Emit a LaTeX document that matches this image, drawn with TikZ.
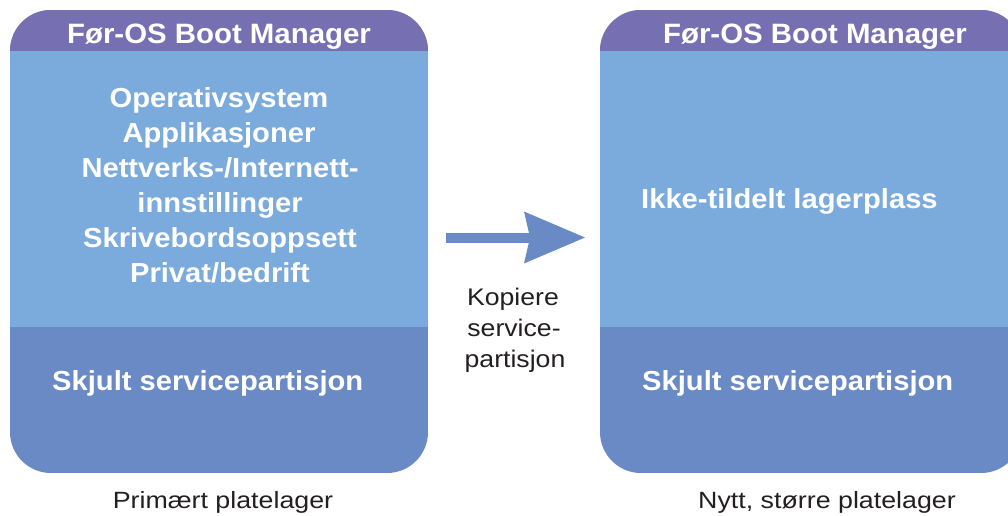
\documentclass[tikz,border=0pt]{standalone}
\usepackage{fontspec}
\setmainfont{Liberation Sans}
\newfontfamily\hdrfont[FakeStretch=1.05]{Liberation Sans Bold}
\newfontfamily\bodyfont[FakeStretch=1.06]{Liberation Sans Bold}
\newfontfamily\capfont[FakeStretch=1.14]{Liberation Sans}
\newfontfamily\midfont[FakeStretch=1.11]{Liberation Sans}
\usetikzlibrary{arrows.meta}
\definecolor{hdr}{HTML}{7670B2}
\definecolor{lblue}{HTML}{7BABDC}
\definecolor{dblue}{HTML}{6A8AC6}
\definecolor{cap}{HTML}{231F20}
\tikzset{
  hdrtext/.style={text=white,font=\hdrfont\fontsize{28}{34}\selectfont,anchor=base,inner sep=0pt},
  bodytext/.style={text=white,font=\bodyfont\fontsize{27.5}{35}\selectfont,anchor=base,inner sep=0pt},
  captext/.style={text=cap,font=\capfont\fontsize{23.5}{30}\selectfont,anchor=base,inner sep=0pt},
  midtext/.style={text=cap,font=\midfont\fontsize{24}{31}\selectfont,anchor=base,inner sep=0pt},
}
\begin{document}
\begin{tikzpicture}[x=1pt,y=-1pt]
\useasboundingbox (0,0) rectangle (1008,515);
\clip (0,0) rectangle (1008,515);
% left disk
\begin{scope}
\clip[rounded corners=41pt] (10,10) rectangle (428,473);
\fill[dblue] (10,10) rectangle (428,473);
\fill[lblue] (10,51) rectangle (428,327);
\fill[hdr] (10,10) rectangle (428,51);
\end{scope}
% right disk
\begin{scope}
\clip[rounded corners=41pt] (600,10) rectangle (1022,473);
\fill[dblue] (600,10) rectangle (1022,473);
\fill[lblue] (600,51) rectangle (1022,327);
\fill[hdr] (600,10) rectangle (1022,51);
\end{scope}
% texts left
\node[hdrtext] (hL) at (219,43) {Før-OS Boot Manager};
\node[bodytext] (l1) at (219,107) {Operativsystem};
\node[bodytext] (l2) at (219,142) {Applikasjoner};
\node[bodytext] (l3) at (220,177) {Nettverks-/Internett-};
\node[bodytext] (l4) at (220,212) {innstillinger};
\node[bodytext] (l5) at (220,247) {Skrivebordsoppsett};
\node[bodytext] (l6) at (220,282) {Privat/bedrift};
\node[bodytext,anchor=base west] (sL) at (52,390) {Skjult servicepartisjon};
\node[captext] (cL) at (223,508) {Primært platelager};
% texts right
\node[hdrtext] (hR) at (815,43) {Før-OS Boot Manager};
\node[bodytext,anchor=base west] (iR) at (641,208) {Ikke-tildelt lagerplass};
\node[bodytext,anchor=base west] (sR) at (642,390) {Skjult servicepartisjon};
\node[captext] (cR) at (827,508) {Nytt, større platelager};
% arrow
\coordinate (aS) at (446,237.5);
\coordinate (aE) at (585,237.5);
\draw[dblue,line width=10pt,-{Stealth[length=61pt,width=52pt,inset=6pt,line width=0pt]}] (aS) -- (aE);
\node[midtext] (m1) at (513,305) {Kopiere};
\node[midtext] (m2) at (514,336) {service-};
\node[midtext] (m3) at (515,367) {partisjon};
\end{tikzpicture}
\end{document}
